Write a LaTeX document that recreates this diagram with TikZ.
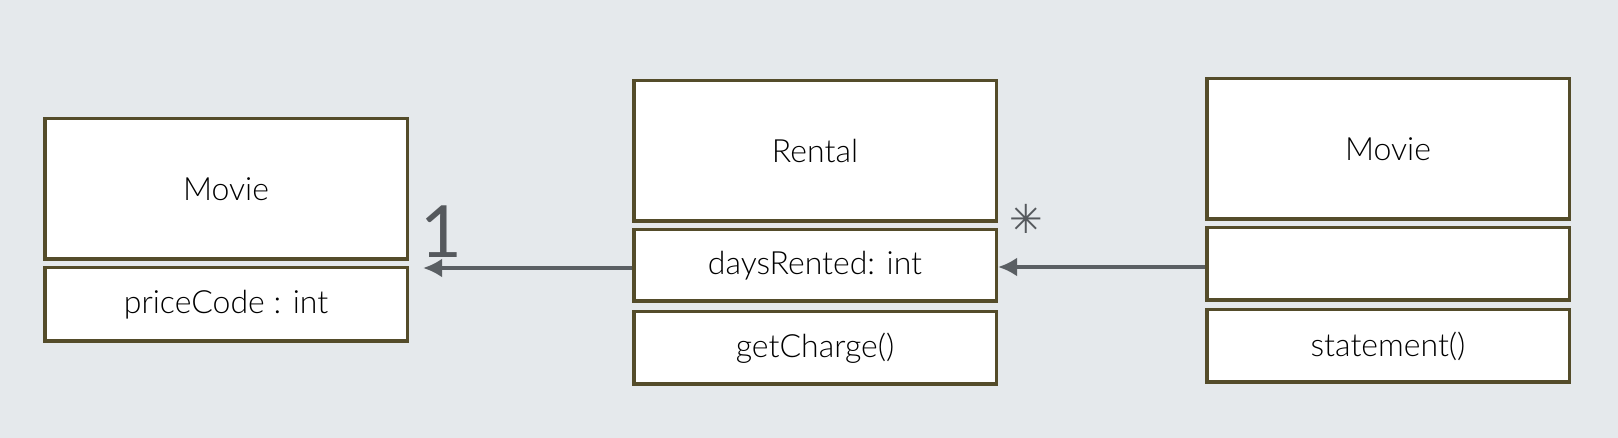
\documentclass[tikz,border=0pt]{standalone}
\usepackage{fontspec}
\setmainfont{Lato}[UprightFont=* Light]
\newfontfamily\symfont{DejaVu Sans}
\usetikzlibrary{arrows.meta}
\definecolor{bg}{RGB}{229,233,236}
\definecolor{boxline}{RGB}{84,76,42}
\definecolor{arrowc}{RGB}{90,95,99}
\definecolor{labelc}{RGB}{85,89,93}
\tikzset{
  umlbox/.style={draw=boxline, line width=3.5pt, fill=white, rectangle,
    minimum width=362.5pt, inner sep=0pt, font=\fontsize{32}{36}\selectfont, text=black},
  assoc/.style={draw=arrowc, line width=4pt, -{Latex[length=19pt,width=19pt]}},
  mult/.style={text=labelc, inner sep=0pt}
}
\begin{document}
\begin{tikzpicture}[x=1pt,y=-1pt]
\fill[bg] (0,0) rectangle (1618,438);
\useasboundingbox (0,0) rectangle (1618,438);
% left Movie
\node[umlbox, minimum height=140.5pt] (lm1) at (226,189) {Movie};
\node[umlbox, minimum height=73.5pt] (lm2) at (226,304.5) {priceCode : int};
% Rental
\node[umlbox, minimum height=140.5pt] (r1) at (815,151) {Rental};
\node[umlbox, minimum height=71.5pt] (r2) at (815,265.5) {daysRented: int};
\node[umlbox, minimum height=72.5pt] (r3) at (815,348) {getCharge()};
% right Movie
\node[umlbox, minimum height=140.5pt] (rm1) at (1388,149) {Movie};
\node[umlbox, minimum height=72.5pt] (rm2) at (1388,264) {};
\node[umlbox, minimum height=72.5pt] (rm3) at (1388,346) {statement()};
% connectors
\draw[assoc, shorten >=14pt] ([yshift=-2.5pt]r2.west) -- ([yshift=-2.5pt]r2.west -| lm2.east);
\draw[assoc] ([yshift=-3pt]rm2.west) -- ([yshift=-3pt]rm2.west -| r2.east);
% multiplicities
\node[mult, font=\fontsize{72}{72}\selectfont\fontspec{Lato}] (one) at (441,232) {1};
\node[mult, font=\fontsize{40}{40}\selectfont\symfont] (many) at (1026,219) {✳};
\end{tikzpicture}
\end{document}
